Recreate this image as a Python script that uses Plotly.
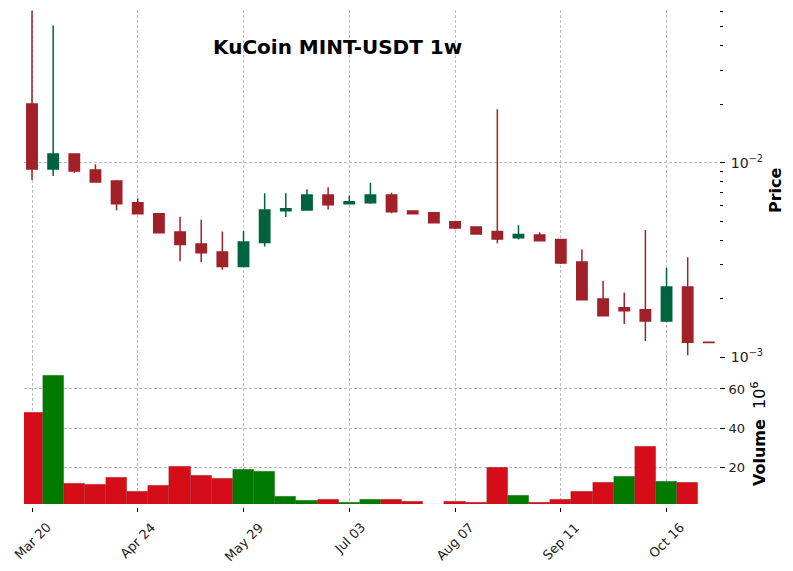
import plotly.graph_objects as go

# ---------------- data ----------------
dates = ["Mar 20", "Mar 27", "Apr 03", "Apr 10", "Apr 17", "Apr 24", "May 01", "May 08",
         "May 15", "May 22", "May 29", "Jun 05", "Jun 12", "Jun 19", "Jun 26", "Jul 03",
         "Jul 10", "Jul 17", "Jul 24", "Jul 31", "Aug 07", "Aug 14", "Aug 21", "Aug 28",
         "Sep 04", "Sep 11", "Sep 18", "Sep 25", "Oct 02", "Oct 09", "Oct 16", "Oct 23", "Oct 30"]

opens = [0.02005, 0.00928, 0.01108, 0.00917, 0.00805, 0.00623, 0.00546, 0.00440,
         0.00382, 0.00347, 0.00292, 0.00388, 0.00566, 0.00571, 0.00682, 0.00615,
         0.00623, 0.00682, 0.00564, 0.00553, 0.00497, 0.00467, 0.00442, 0.00411,
         0.00425, 0.00402, 0.00308, 0.00199, 0.00179, 0.00175, 0.00153, 0.00229, 0.001192]
highs = [0.0606, 0.0509, 0.01108, 0.00981, 0.00815, 0.00656, 0.00550, 0.00527,
         0.00509, 0.00443, 0.00445, 0.00696, 0.00696, 0.00730, 0.00747, 0.00676,
         0.00789, 0.00701, 0.00569, 0.00553, 0.00497, 0.00467, 0.01884, 0.00476,
         0.00438, 0.00402, 0.00358, 0.00247, 0.00215, 0.00450, 0.00287, 0.00326, 0.001195]
lows = [0.00815, 0.00854, 0.00888, 0.00790, 0.00569, 0.00546, 0.00436, 0.00311,
        0.00307, 0.00281, 0.00292, 0.00370, 0.00525, 0.00571, 0.00575, 0.00613,
        0.00615, 0.00549, 0.00546, 0.00491, 0.00454, 0.00427, 0.00385, 0.00403,
        0.00397, 0.00301, 0.00197, 0.00163, 0.00148, 0.00121, 0.00151, 0.00102, 0.001186]
closes = [0.00928, 0.01108, 0.00906, 0.00796, 0.00615, 0.00546, 0.00436, 0.00379,
          0.00344, 0.00292, 0.00391, 0.00571, 0.00580, 0.00682, 0.00608, 0.00630,
          0.00682, 0.00560, 0.00546, 0.00491, 0.00461, 0.00429, 0.00405, 0.00427,
          0.00397, 0.00305, 0.00197, 0.00163, 0.00173, 0.00153, 0.00229, 0.00119, 0.001188]
volume_millions = [47.9, 66.8, 11.7, 11.2, 14.7, 7.6, 10.7, 20.4, 15.8, 14.2, 18.8, 17.8,
                   5.1, 3.0, 3.5, 2.0, 3.5, 3.5, 2.5, 1.0, 2.5, 2.0, 20.0, 5.6, 2.0, 3.5,
                   7.6, 12.2, 15.3, 30.6, 12.7, 12.2, 0.0]

price_tick_vals = [0.001, 0.01]
price_tick_text = ["10<sup>\u22123</sup>", "10<sup>\u22122</sup>"]
price_minor_vals = [0.002, 0.003, 0.004, 0.005, 0.006, 0.007, 0.008, 0.009,
                    0.02, 0.03, 0.04, 0.05, 0.06]
volume_tick_vals = [20, 40, 60]
volume_tick_text = ["20", "40", "60"]
x_tick_step = 5
title_text = "KuCoin MINT-USDT 1w"

# ---------------- style ----------------
CANDLE_UP, CANDLE_DOWN = "#006340", "#A02128"
VOL_UP, VOL_DOWN = "#007a00", "#d50d18"
GRID = "#bdbdbd"
FONT = "DejaVu Sans"

idx = list(range(len(dates)))
x_ticks = idx[::x_tick_step]
x_tick_labels = [dates[i] for i in x_ticks]

vol_colors = []
for i in idx:
    ref = closes[i - 1] if i > 0 else opens[i]
    vol_colors.append(VOL_UP if closes[i] > ref else VOL_DOWN)

fig = go.Figure()
fig.add_trace(go.Candlestick(
    x=idx, open=opens, high=highs, low=lows, close=closes,
    xaxis="x", yaxis="y", whiskerwidth=0,
    increasing=dict(line=dict(color=CANDLE_UP, width=1.5), fillcolor=CANDLE_UP),
    decreasing=dict(line=dict(color=CANDLE_DOWN, width=1.5), fillcolor=CANDLE_DOWN),
    showlegend=False, hoverinfo="skip"))
fig.add_trace(go.Bar(
    x=idx, y=volume_millions, xaxis="x2", yaxis="y2", width=1.0,
    marker=dict(color=vol_colors, line=dict(color="rgba(0,0,0,0.18)", width=0.6)),
    showlegend=False, hoverinfo="skip"))

xr = [-0.378, 32.48]
grid_common = dict(showgrid=True, gridcolor=GRID, gridwidth=0.7, griddash="3px,2px",
                   zeroline=False, showline=False)
tickfont = dict(family=FONT, size=13, color="#222222")
ytickfont = dict(family=FONT, size=14, color="#222222")

fig.update_layout(
    width=793, height=571,
    margin=dict(l=24, r=74, t=10, b=64),
    paper_bgcolor="white", plot_bgcolor="white",
    font=dict(family=FONT, color="black"),
    bargap=0,
    xaxis=dict(domain=[0, 1], anchor="y", range=xr, tickmode="array", tickvals=x_ticks,
               showticklabels=False, ticks="", rangeslider=dict(visible=False),
               **grid_common),
    yaxis=dict(domain=[0.3008, 1], anchor="x", type="log", range=[-3.0026, -1.2141],
               side="right", tickmode="array", tickvals=price_tick_vals,
               ticktext=price_tick_text, ticks="outside", ticklen=5, tickwidth=1,
               tickcolor="black", tickfont=ytickfont, ticklabelstandoff=3,
               minor=dict(tickmode="array", tickvals=price_minor_vals, ticks="outside",
                          ticklen=3, tickwidth=1, tickcolor="black", showgrid=False),
               **grid_common),
    xaxis2=dict(domain=[0, 1], anchor="free", position=0, range=xr, tickmode="array",
                tickvals=x_ticks, showticklabels=False, ticks="outside", ticklen=4,
                tickwidth=1, tickcolor="black", **grid_common),
    yaxis2=dict(domain=[0.006, 0.2988], anchor="x2", range=[1.42, 75.5], side="right",
                tickmode="array", tickvals=volume_tick_vals, ticktext=volume_tick_text,
                ticks="outside", ticklen=5, tickwidth=1, tickcolor="black",
                tickfont=tickfont, ticklabelstandoff=1, **grid_common),
)

annotations = [
    dict(text="<b>" + title_text + "</b>", xref="paper", yref="paper", x=0.4504, y=0.9256,
         xanchor="center", yanchor="middle", showarrow=False,
         font=dict(family=FONT, size=20, color="black")),
    dict(text="<b>Price</b>", xref="paper", yref="paper", x=1.0806, y=0.6378,
         xanchor="center", yanchor="middle", textangle=-90, showarrow=False,
         font=dict(family=FONT, size=16, color="black")),
    dict(text="<b>Volume</b>  10<sup>6</sup>", xref="paper", yref="paper", x=1.0576, y=0.1469,
         xanchor="center", yanchor="middle", textangle=-90, showarrow=False,
         font=dict(family=FONT, size=16, color="black")),
]
for xv, lab in zip(x_ticks, x_tick_labels):
    annotations.append(dict(text=lab, xref="x2", yref="paper", x=xv, y=-0.0201,
                            xanchor="center", yanchor="top", textangle=-45, showarrow=False,
                            font=tickfont))
fig.update_layout(annotations=annotations)

fig.write_html("out.html", config=dict(displayModeBar=False))
